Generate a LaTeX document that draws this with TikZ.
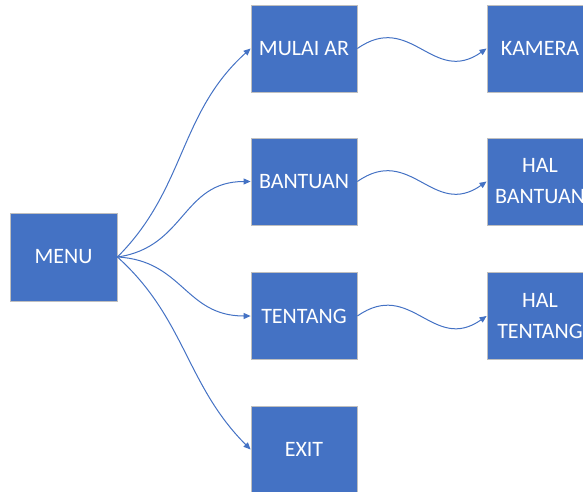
\documentclass[tikz,border=0pt]{standalone}
\usepackage{fontspec}
\setmainfont{Carlito}
\usetikzlibrary{arrows.meta}
\definecolor{boxblue}{HTML}{4472C4}
\definecolor{boxedge}{HTML}{BFBFBF}
\begin{document}
\begin{tikzpicture}[x=1pt,y=1pt,
  box/.style={fill=boxblue, draw=boxedge, line width=0.8pt, minimum width=106pt, minimum height=87pt, inner sep=0pt, text=white, font=\fontsize{22}{31}\selectfont, align=center},
  conn/.style={draw=boxblue, line width=1pt, -{Triangle[length=7pt,width=6pt]}}]
\useasboundingbox (0,0) rectangle (583,-492);
\clip (0,0) rectangle (583,-492);
\node[box, minimum width=107pt, minimum height=88pt] (menu) at (63.5,-257) {MENU};
\node[box] (mulai) at (304,-48.5) {MULAI AR};
\node[box] (bantuan) at (304,-181.5) {BANTUAN};
\node[box] (tentang) at (304,-316) {TENTANG};
\node[box] (exit) at (304,-449.5) {EXIT};
\node[box] (kamera) at (540,-48.5) {KAMERA};
\node[box] (halb) at (540,-181.5) {HAL\\BANTUAN};
\node[box] (halt) at (540,-316) {HAL\\TENTANG};
\draw[conn] (menu.east) to[out=45, in=222] (mulai.west);
\draw[conn] (menu.east) to[out=8, in=180, looseness=1.15] (bantuan.west);
\draw[conn] (menu.east) to[out=-3, in=180, looseness=1.15] (tentang.west);
\draw[conn] (menu.east) to[out=-42, in=135] (exit.west);
\draw[conn] (mulai.east) to[out=35, in=215, looseness=1.3] (kamera.west);
\draw[conn] (bantuan.east) to[out=35, in=215, looseness=1.3] (halb.west);
\draw[conn] (tentang.east) to[out=35, in=215, looseness=1.3] (halt.west);
\end{tikzpicture}
\end{document}
